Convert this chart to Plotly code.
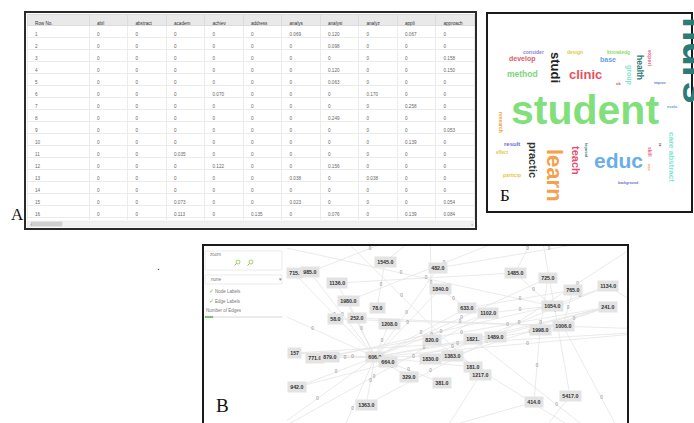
import plotly.graph_objects as go

W, H = 694, 423
def px(x): return x / W
def py(y): return 1 - y / H

# ---------------- Panel A: term matrix ----------------
table_columns = ["Row No.", "abil", "abstract", "academ", "achiev", "address",
                 "analys", "analysi", "analyz", "appli", "approach"]
row_numbers = [1, 2, 3, 4, 5, 6, 7, 8, 9, 10, 11, 12, 13, 14, 15, 16, 17]
abil     = [0, 0, 0, 0, 0, 0, 0, 0, 0, 0, 0, 0, 0, 0, 0, 0, 0]
abstract = [0, 0, 0, 0, 0, 0, 0, 0, 0, 0, 0, 0, 0, 0, 0, 0, 0]
academ   = [0, 0, 0, 0, 0, 0, 0, 0, 0, 0, 0.035, 0, 0, 0, 0.073, 0.113, 0]
achiev   = [0, 0, 0, 0, 0, 0.070, 0, 0, 0, 0, 0, 0.122, 0, 0, 0, 0, 0]
address  = [0, 0, 0, 0, 0, 0, 0, 0, 0, 0, 0, 0, 0, 0, 0, 0.135, 0]
analys   = [0.069, 0, 0, 0, 0, 0, 0, 0, 0, 0, 0, 0, 0.038, 0, 0.023, 0, 0]
analysi  = [0.120, 0.098, 0, 0.120, 0.063, 0, 0, 0.249, 0, 0, 0, 0.156, 0, 0, 0, 0.076, 0]
analyz   = [0, 0, 0, 0, 0, 0.170, 0, 0, 0, 0, 0, 0, 0.038, 0, 0, 0, 0]
appli    = [0.067, 0, 0, 0, 0, 0, 0.258, 0, 0, 0.139, 0, 0, 0, 0, 0, 0.139, 0]
approach = [0, 0, 0.158, 0.150, 0, 0, 0, 0, 0.053, 0, 0, 0, 0, 0, 0.054, 0.084, 0.464]

# ---------------- Panel Б: word cloud ----------------
words       = ["nurs", "student", "clinic", "studi", "method", "develop", "consider", "design",
               "knowledg", "base", "health", "experi", "group", "uk", "improv", "evalu",
               "research", "result", "effect", "particip", "practic", "learn", "teach",
               "keyword", "educ", "skill", "use", "care abstract", "background", "ss"]
word_x      = [184, 96, 96, 67, 33, 33, 44, 86, 129, 119, 151, 161, 140, 129, 171, 183,
               12, 23, 13, 23, 44, 66, 87, 97, 129, 161, 161, 183, 139, 171]
word_y      = [45, 95, 59, 52, 59, 44, 37, 37, 37, 44, 52, 43, 60, 68, 68, 91,
               107, 129, 137, 160, 145, 160, 145, 135, 145, 137, 153, 142, 168, 130]
word_size   = [40, 41, 13, 13, 8.5, 7, 5, 5, 5, 7, 8.5, 5.5, 7, 4, 3.5, 4,
               5, 6, 4.5, 5, 11, 22, 11, 3.5, 21, 5, 4, 8, 3.5, 3]
word_angle  = [90, 0, 0, 90, 0, 0, 0, 0, 0, 0, 90, 90, 90, 0, 0, 0,
               90, 0, 0, 0, 90, 90, 90, 90, 0, 90, 90, 90, 0, 90]
word_anchor = ["left"] + ["center"] * 29
word_color  = ["#2b7b79", "#82e07c", "#e8505b", "#222222", "#7ed37b", "#e0595f", "#8c83d6",
               "#e3c83f", "#8fdc63", "#6a9fe0", "#2e7a78", "#e56b8a", "#83e3d3", "#e05050",
               "#5a7fd5", "#5e9fd5", "#f0a040", "#6b6bd8", "#e3c83f", "#e3c83f", "#333333",
               "#f5a04a", "#e84c6c", "#2e7a78", "#6aaee8", "#e56b8a", "#f0a040", "#83e3d3",
               "#6b6bd8", "#333333"]

# ---------------- Panel В: network ----------------
node_labels = ["1545.0", "482.0", "715.", "985.0", "1136.0", "1840.0", "1980.0", "78.0",
               "58.0", "252.0", "1208.0", "820.0", "157", "771.0", "879.0", "606.0",
               "664.0", "1830.0", "1383.0", "329.0", "381.0", "942.0", "1363.0", "1485.0",
               "725.0", "765.0", "1134.0", "633.0", "1102.0", "1054.0", "241.0", "1998.0",
               "1006.0", "1821.", "1489.0", "181.0", "1217.0", "414.0", "5417.0",
               "", "", "", "", "", "", "", "", "", "", "", ""]
node_x = [98, 151, 7, 23, 50, 153, 61, 90, 48, 70, 102, 145, 7, 28, 43, 88,
          101, 143, 165, 122, 155, 10, 79, 228, 261, 286, 321, 180, 201, 265, 321, 253,
          276, 186, 208, 186, 193, 247, 283,
          -37, -27, 43, 133, 233, 353, 393, 373, 253, 143, 43, -37]
node_y = [16, 22, 27, 26, 37, 43, 55, 62, 73, 72, 78, 94, 107, 112, 111, 111,
          116, 113, 110, 131, 137, 141, 159, 27, 32, 44, 40, 62, 67, 60, 61, 84,
          80, 93, 91, 121, 129, 156, 150,
          54, 194, 214, 224, 214, 224, 84, -16, -21, -21, -21, -6]
edges = [(15, 2), (15, 3), (15, 4), (15, 6), (15, 12), (15, 13), (15, 14), (15, 21),
         (15, 22), (15, 40), (15, 41), (15, 39), (15, 45), (15, 18), (15, 27), (15, 33),
         (15, 1), (15, 24), (15, 10), (15, 19), (15, 20), (15, 35), (15, 5), (15, 28),
         (15, 31), (0, 48), (0, 7), (1, 46), (5, 27), (23, 47), (23, 29), (24, 31),
         (25, 32), (26, 29), (26, 45), (29, 28), (30, 31), (30, 33), (31, 37), (32, 44),
         (38, 43), (38, 47), (36, 42), (37, 41), (34, 46), (28, 40), (11, 44), (17, 26),
         (18, 30), (27, 25), (8, 45), (9, 32), (6, 47), (12, 45), (21, 30), (49, 35),
         (50, 29), (34, 22), (11, 48), (33, 44), (3, 48), (4, 23), (13, 30), (14, 29)]
edge_label_text = "0"

fig = go.Figure()

# --- table ---
def fmt(v):
    return "0" if v == 0 else f"{v:.3f}"

cols = [abil, abstract, academ, achiev, address, analys, analysi, analyz, appli, approach]
cell_values = [[str(r) for r in row_numbers]] + [[fmt(v) for v in c] for c in cols]
fig.add_trace(go.Table(
    domain=dict(x=[px(27), px(474)], y=[py(221), py(14)]),
    columnwidth=[62] + [38.5] * 10,
    header=dict(values=table_columns, fill_color="#e9e9e9", align="left", height=11,
                line=dict(color="#dcdcdc", width=1),
                font=dict(family="Liberation Sans", size=4.6, color="#333")),
    cells=dict(values=cell_values, fill_color="white", align="left", height=12,
               line=dict(color="#ececec", width=1),
               font=dict(family="Liberation Sans", size=4.6, color="#666")),
))

# --- network edges ---
ex, ey, mx, my = [], [], [], []
for a, b in edges:
    ex += [node_x[a], node_x[b], None]
    ey += [node_y[a], node_y[b], None]
    cx, cy = (node_x[a] + node_x[b]) / 2, (node_y[a] + node_y[b]) / 2
    if 2 < cx < 338 and 2 < cy < 175:
        mx.append(cx); my.append(cy)
fig.add_trace(go.Scatter(x=ex, y=ey, mode="lines", xaxis="x3", yaxis="y3",
                         line=dict(color="#e4e4e4", width=0.8), hoverinfo="skip",
                         showlegend=False))
fig.add_trace(go.Scatter(x=mx, y=my, mode="text", text=[edge_label_text] * len(mx),
                         xaxis="x3", yaxis="y3", textfont=dict(size=4.5, color="#777"),
                         hoverinfo="skip", showlegend=False))

annotations = []
for lab, x, y in zip(node_labels, node_x, node_y):
    if lab:
        annotations.append(dict(x=x, y=y, xref="x3", yref="y3", text=lab, showarrow=False,
                                bgcolor="#e3e3e3", borderpad=2.2,
                                font=dict(family="Liberation Sans", size=5.3, color="#333",
                                          weight="bold")))

# --- word cloud ---
for w, x, y, s, a, c, xa in zip(words, word_x, word_y, word_size, word_angle, word_color,
                                word_anchor):
    annotations.append(dict(x=x, y=y, xref="x2", yref="y2", text=w, showarrow=False,
                            textangle=a, xanchor=xa,
                            font=dict(family="Liberation Sans", size=s, color=c,
                                      weight="bold")))

# --- panel letters and decoration texts ---
def ptext(x, y, t, size, color="#222", family="Liberation Sans", xanchor="left", weight="normal"):
    annotations.append(dict(x=px(x), y=py(y), xref="paper", yref="paper", text=t,
                            showarrow=False, xanchor=xanchor, yanchor="middle",
                            font=dict(family=family, size=size, color=color, weight=weight)))

ptext(9, 215, "А", 17, "#111", "Liberation Serif")
ptext(498, 195, "Б", 17, "#111", "Liberation Serif")
ptext(214, 405, "В", 19, "#111", "Liberation Serif")
ptext(155, 266, ".", 10, "#111")
ptext(208, 254, "zoom", 4.5, "#777")
ptext(209, 279, "none", 4.5, "#777")
ptext(280, 279, "▾", 5, "#888", xanchor="center")
ptext(207, 291, "✓", 5.5, "#5cb85c")
ptext(213, 291, "Node Labels", 4.5, "#777")
ptext(207, 301, "✓", 5.5, "#5cb85c")
ptext(213, 301, "Edge Labels", 4.5, "#777")
ptext(204, 310, "Number of Edges", 4.5, "#777")
ptext(28, 224, "‹", 6, "#999")
ptext(472, 224, "›", 6, "#999", xanchor="center")

shapes = []
def rect(x0, y0, x1, y1, lc, lw, fc="rgba(0,0,0,0)", layer="above"):
    shapes.append(dict(type="rect", xref="paper", yref="paper", x0=px(x0), x1=px(x1),
                       y0=py(y1), y1=py(y0), line=dict(color=lc, width=lw),
                       fillcolor=fc, layer=layer))

# table scrollbar
rect(27, 221, 474, 227, "#e0e0e0", 0.5, "#f1f1f1")
rect(31, 222, 62, 226, "#c4c4c4", 0.5, "#cfcfcf")
# control panel widgets
rect(205, 251, 282, 270, "#dddddd", 0.6, "white")
rect(205, 275, 282, 284, "#dddddd", 0.6, "white")
rect(205, 316.5, 282, 317.5, "#dddddd", 0.3, "#e4e4e4")
rect(205, 316.3, 213, 317.7, "#5cb85c", 0.3, "#5cb85c")
shapes.append(dict(type="circle", xref="paper", yref="paper", x0=px(236), x1=px(240),
                   y0=py(264), y1=py(260), line=dict(color="#8bc34a", width=0.8)))
shapes.append(dict(type="line", xref="paper", yref="paper", x0=px(236.5), x1=px(234.5),
                   y0=py(263.5), y1=py(265.5), line=dict(color="#c9a227", width=1)))
shapes.append(dict(type="circle", xref="paper", yref="paper", x0=px(249), x1=px(253),
                   y0=py(264), y1=py(260), line=dict(color="#8bc34a", width=0.8)))
shapes.append(dict(type="line", xref="paper", yref="paper", x0=px(249.5), x1=px(247.5),
                   y0=py(263.5), y1=py(265.5), line=dict(color="#c9a227", width=1)))
# panel borders
rect(25, 12, 476, 229, "#2a2a2a", 2)
rect(487, 13, 692, 212, "#1a1a1a", 2)
rect(203, 245, 628, 426, "#1a1a1a", 2)

fig.update_layout(
    width=W, height=H, margin=dict(l=0, r=0, t=0, b=0),
    paper_bgcolor="white", plot_bgcolor="white",
    showlegend=False,
    annotations=annotations, shapes=shapes,
    xaxis2=dict(domain=[px(489), 1.0], range=[0, 205], visible=False, fixedrange=True),
    yaxis2=dict(domain=[py(211), py(15)], range=[196, 0], visible=False, fixedrange=True,
                anchor="x2"),
    xaxis3=dict(domain=[px(287), px(627)], range=[0, 340], visible=False, fixedrange=True,
                anchor="y3"),
    yaxis3=dict(domain=[py(423), py(246)], range=[177, 0], visible=False, fixedrange=True,
                anchor="x3"),
)

fig.write_html("out.html", config={"displayModeBar": False},
               post_script="document.body.style.margin='0';document.body.style.overflow='hidden';")
